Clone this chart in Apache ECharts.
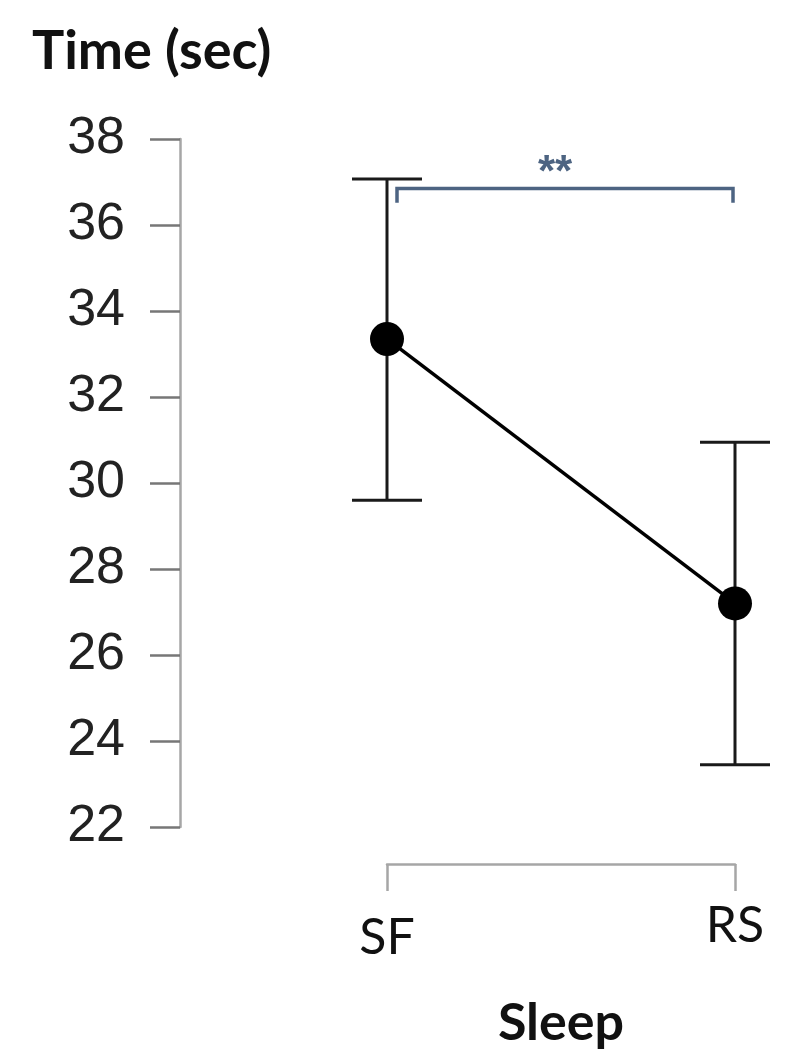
<!DOCTYPE html>
<html>
<head>
<meta charset="utf-8">
<script src="https://cdn.jsdelivr.net/npm/echarts@6/dist/echarts.min.js"></script>
<style>
  html, body { margin: 0; padding: 0; background: #fff; }
  #chart { width: 789px; height: 1062px; }
</style>
</head>
<body>
<div id="chart"></div>
<script>
// 数据
const categories = ['SF', 'RS'];
const means = [33.35, 27.2];
const upper = [37.07, 30.95];
const lower = [29.6, 23.45];
const yTicks = [22, 24, 26, 28, 30, 32, 34, 36, 38];
// 显著性标记：从第0组到第1组，横线高度和下沿
const sigBracket = [[0, 1, 36.85, 36.52]];
const sigText = '**';

const chart = echarts.init(document.getElementById('chart'));

const axisGray = '#a6a6a6';
const inkColor = '#1a1a1a';
const sigColor = '#4d6482';

chart.setOption({
  animation: false,
  title: {
    text: 'Time (sec)',
    left: 27,
    top: 20,
    textStyle: { fontFamily: 'Lato', fontWeight: 'bold', fontSize: 54, color: '#111' }
  },
  grid: { left: 387, right: 54, top: 139, bottom: 235 },
  xAxis: {
    type: 'category',
    data: categories,
    boundaryGap: false,
    offset: 37,
    name: 'Sleep',
    nameLocation: 'middle',
    nameGap: 133,
    nameTextStyle: { fontFamily: 'Lato', fontWeight: 'bold', fontSize: 52, color: '#111' },
    axisLine: { lineStyle: { color: axisGray, width: 2.5 } },
    axisTick: { length: 27, lineStyle: { color: axisGray, width: 2.5 } },
    axisLabel: {
      margin: 37,
      fontFamily: 'Lato',
      fontSize: 50,
      color: '#111',
      formatter: v => v === 'SF' ? '{a|' + v + '}' : '{b|' + v + '}',
      rich: {
        a: { fontFamily: 'Lato', fontSize: 50, color: '#111', padding: [12, 0, 0, 0] },
        b: { fontFamily: 'Lato', fontSize: 50, color: '#111', padding: [0, 0, 0, 0] }
      }
    },
    splitLine: { show: false }
  },
  yAxis: {
    type: 'value',
    min: yTicks[0],
    max: yTicks[yTicks.length - 1],
    interval: 2,
    offset: 207,
    axisLine: { show: true, lineStyle: { color: axisGray, width: 2.5 } },
    axisTick: { show: true, length: 30, lineStyle: { color: '#777', width: 2.5 } },
    axisLabel: { margin: 55, fontFamily: 'Liberation Sans', fontSize: 52, color: '#222' },
    splitLine: { show: false }
  },
  series: [
    {
      // 误差线
      type: 'custom',
      data: categories.map((c, i) => [i, lower[i], upper[i]]),
      renderItem(params, api) {
        const lo = api.coord([api.value(0), api.value(1)]);
        const hi = api.coord([api.value(0), api.value(2)]);
        const half = 35;
        const style = { stroke: inkColor, lineWidth: 3 };
        return {
          type: 'group',
          children: [
            { type: 'line', shape: { x1: hi[0], y1: hi[1], x2: lo[0], y2: lo[1] }, style },
            { type: 'line', shape: { x1: hi[0] - half, y1: hi[1], x2: hi[0] + half, y2: hi[1] }, style },
            { type: 'line', shape: { x1: lo[0] - half, y1: lo[1], x2: lo[0] + half, y2: lo[1] }, style }
          ]
        };
      },
      z: 1
    },
    {
      type: 'line',
      data: means,
      symbol: 'circle',
      symbolSize: 34,
      itemStyle: { color: '#000' },
      lineStyle: { color: '#000', width: 3.5 },
      z: 3
    },
    {
      // 显著性括号
      type: 'custom',
      data: sigBracket,
      renderItem(params, api) {
        const a = api.coord([api.value(0), api.value(2)]);
        const b = api.coord([api.value(1), api.value(2)]);
        const bottom = api.coord([api.value(0), api.value(3)])[1];
        const x1 = a[0] + 10, x2 = b[0] - 2, y = a[1];
        const style = { stroke: sigColor, lineWidth: 3.5, fill: null };
        return {
          type: 'group',
          children: [
            { type: 'polyline', shape: { points: [[x1, bottom], [x1, y], [x2, y], [x2, bottom]] }, style },
            {
              type: 'text',
              style: {
                text: sigText, x: (x1 + x2) / 2 - 10, y: y - 37,
                align: 'center', verticalAlign: 'top',
                fontFamily: 'Liberation Sans', fontSize: 44, fontWeight: 'bold', fill: sigColor
              }
            }
          ]
        };
      },
      z: 2
    }
  ]
});
</script>
</body>
</html>
